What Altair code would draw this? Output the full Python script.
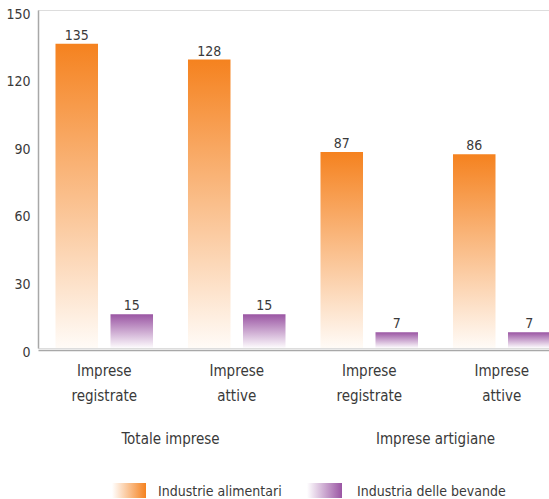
import altair as alt
import pandas as pd

# ---- data ----
groups = ["Totale imprese", "Totale imprese", "Imprese artigiane", "Imprese artigiane"]
kinds = ["Imprese registrate", "Imprese attive", "Imprese registrate", "Imprese attive"]
series_names = ["Industrie alimentari", "Industria delle bevande"]
alimentari = [135, 128, 87, 86]
bevande = [15, 15, 7, 7]
y_ticks = [0, 30, 60, 90, 120, 150]

cats = [g + ": " + k for g, k in zip(groups, kinds)]
rows = []
for c, g, a, b in zip(cats, groups, alimentari, bevande):
    rows.append({"cat": c, "group": g, "series": series_names[0], "value": a})
    rows.append({"cat": c, "group": g, "series": series_names[1], "value": b})
df = pd.DataFrame(rows)

group_df = pd.DataFrame({
    "group": ["Totale imprese", "Imprese artigiane"],
    "anchor": [cats[0], cats[2]],
})
legend_df = pd.DataFrame({"series": series_names})

FONT = "DejaVu Sans Condensed"
TXT = "#3a3a3a"
AXC = "#a8a8a8"
ORANGE = "#F5821F"
PURPLE = "#9A55A3"

orange_v = alt.Gradient(gradient="linear", x1=0, x2=0, y1=0, y2=1,
                        stops=[alt.GradientStop(color=ORANGE, offset=0),
                               alt.GradientStop(color="#FFFBF7", offset=1)])
purple_v = alt.Gradient(gradient="linear", x1=0, x2=0, y1=0, y2=1,
                        stops=[alt.GradientStop(color=PURPLE, offset=0),
                               alt.GradientStop(color="#FDFBFD", offset=1)])
orange_h = alt.Gradient(gradient="linear", x1=0, x2=1, y1=0, y2=0,
                        stops=[alt.GradientStop(color="#FFFFFF", offset=0),
                               alt.GradientStop(color=ORANGE, offset=1)])
purple_h = alt.Gradient(gradient="linear", x1=0, x2=1, y1=0, y2=0,
                        stops=[alt.GradientStop(color="#FFFFFF", offset=0),
                               alt.GradientStop(color=PURPLE, offset=1)])

x_enc = alt.X(
    "cat:N", sort=cats,
    scale=alt.Scale(domain=cats, range=[0, 530], paddingInner=0, paddingOuter=0),
    axis=alt.Axis(title=None, labelAngle=0, ticks=False, offset=2,
                  domainColor=AXC, domainWidth=1.5,
                  labelExpr="split(split(datum.label, ': ')[1], ' ')",
                  labelFontSize=15, labelColor=TXT, labelPadding=13,
                  labelLineHeight=25, labelFont=FONT),
)
xo_enc = alt.XOffset("series:N", sort=series_names,
                     scale=alt.Scale(domain=series_names, paddingInner=0.227, paddingOuter=0.318))
y_enc = alt.Y(
    "value:Q",
    scale=alt.Scale(domain=[0, 150], nice=False),
    axis=alt.Axis(title=None, values=y_ticks, grid=False, ticks=False, tickSize=0,
                  labelPadding=8, labelOffset=4, domainColor=AXC, domainWidth=1.5,
                  labelFontSize=14, labelColor=TXT, labelFont=FONT),
)

base = alt.Chart(df)

bars_o = base.transform_filter(alt.datum.series == series_names[0]).mark_bar(
    fill=orange_v).encode(x=x_enc, xOffset=xo_enc, y=y_enc)
bars_p = base.transform_filter(alt.datum.series == series_names[1]).mark_bar(
    fill=purple_v).encode(x=x_enc, xOffset=xo_enc, y=y_enc)
labels = base.mark_text(dy=-4, baseline="alphabetic", fontSize=14, color=TXT, font=FONT).encode(
    x=x_enc, xOffset=xo_enc, y=y_enc, text=alt.Text("value:Q"))

group_labels = alt.Chart(group_df).mark_text(
    baseline="top", fontSize=15, color=TXT, font=FONT).encode(
    x=alt.X("anchor:N", bandPosition=1, sort=cats),
    y=alt.value(422), text="group:N")

leg_o = alt.Chart(legend_df).transform_filter(alt.datum.series == series_names[0]).mark_rect(
    fill=orange_h).encode(x=alt.value(74), x2=alt.value(108), y=alt.value(473), y2=alt.value(488))
leg_p = alt.Chart(legend_df).transform_filter(alt.datum.series == series_names[1]).mark_rect(
    fill=purple_h).encode(x=alt.value(269), x2=alt.value(304), y=alt.value(473), y2=alt.value(488))
leg_t_o = alt.Chart(legend_df).transform_filter(alt.datum.series == series_names[0]).mark_text(
    align="left", baseline="middle", fontSize=14, color=TXT, font=FONT).encode(
    x=alt.value(120), y=alt.value(482), text="series:N")
leg_t_p = alt.Chart(legend_df).transform_filter(alt.datum.series == series_names[1]).mark_text(
    align="left", baseline="middle", fontSize=14, color=TXT, font=FONT).encode(
    x=alt.value(319), y=alt.value(482), text="series:N")

chart = alt.layer(bars_o, bars_p, labels, group_labels, leg_o, leg_p, leg_t_o, leg_t_p).properties(
    width=511, height=338,
    autosize=alt.AutoSizeParams(type="none"),
    padding={"left": 38, "top": 10, "right": 0, "bottom": 151},
).configure_view(stroke=None).configure(font=FONT)

chart.save("out.html", embed_options={"renderer": "svg", "actions": False})
